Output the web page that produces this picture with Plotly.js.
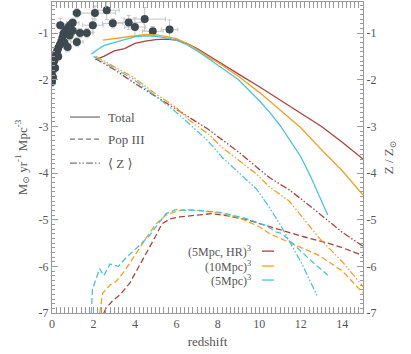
<!DOCTYPE html>
<html>
<head>
<meta charset="utf-8">
<script src="https://cdn.plot.ly/plotly-3.0.1.min.js"></script>
<style>
  body { margin: 0; background: #fff; }
  #plot { width: 411px; height: 354px; }
</style>
</head>
<body>
<div id="plot"></div>
<script>
'use strict'

// colours of the three runs
let colHR = '#a8443f'
let col10 = '#f5a025'
let col5 = '#4cc3d3'

// total SFR (solid)
let totHR_z = [2.1, 2.5, 3.0, 3.5, 4.0, 4.5, 5.0, 5.5, 6.0, 6.5, 7.0, 7.6, 8.0, 9.0, 10, 11, 12, 13, 14, 15]
let totHR_v = [-1.57, -1.5, -1.38, -1.33, -1.22, -1.17, -1.14, -1.13, -1.15, -1.22, -1.33, -1.5, -1.6, -1.88, -2.15, -2.43, -2.72, -3.0, -3.34, -3.7]
let tot10_z = [2.45, 3.0, 3.5, 4.0, 4.5, 5.0, 5.5, 6.0, 6.5, 7.0, 7.6, 8.0, 9.0, 10, 11, 12, 13, 14, 15]
let tot10_v = [-1.15, -1.12, -1.08, -1.05, -1.03, -1.04, -1.07, -1.12, -1.22, -1.35, -1.53, -1.63, -1.93, -2.27, -2.64, -3.03, -3.5, -3.95, -4.47]
let tot5_z = [1.9, 2.2, 2.5, 3.0, 3.5, 4.0, 4.5, 5.0, 5.5, 6.0, 6.5, 7.0, 7.6, 8.0, 9.0, 10, 10.5, 11, 11.44, 12, 12.5, 13, 13.3]
let tot5_v = [-1.45, -1.35, -1.27, -1.2, -1.14, -1.08, -1.06, -1.07, -1.1, -1.15, -1.25, -1.38, -1.57, -1.68, -2.0, -2.45, -2.7, -2.98, -3.28, -3.65, -4.1, -4.6, -4.9]

// Pop III SFR (dashed)
let p3HR_z = [2.5, 2.6, 2.9, 3.3, 3.75, 4.2, 4.7, 5.0, 5.3, 5.7, 6.15, 7.0, 7.7, 8.5, 9.4, 10.5, 12.1, 13.3, 14, 15]
let p3HR_v = [-7.0, -6.9, -6.75, -6.6, -6.36, -6.0, -5.62, -5.35, -5.09, -4.98, -4.94, -4.9, -4.87, -4.92, -5.0, -5.15, -5.36, -5.5, -5.6, -5.77]
let p310_z = [2.3, 2.45, 2.8, 3.1, 3.5, 4.0, 4.5, 5.0, 5.5, 6.0, 6.5, 7.0, 8.0, 9.0, 10, 10.5, 11.5, 12.9, 14, 15]
let p310_v = [-7.0, -6.57, -6.4, -6.32, -6.1, -5.75, -5.42, -5.1, -4.9, -4.82, -4.78, -4.8, -4.85, -4.95, -5.15, -5.3, -5.5, -5.77, -6.1, -6.57]
let p35_z = [1.9, 1.95, 2.1, 2.3, 2.5, 2.8, 3.2, 3.6, 4.1, 4.7, 5.1, 5.5, 6.0, 6.5, 7.0, 7.9, 8.5, 9.4, 10.3, 10.8, 11.1, 11.7, 12.5, 13.3]
let p35_v = [-7.0, -6.5, -6.3, -6.05, -6.2, -5.95, -6.0, -5.8, -5.6, -5.34, -5.1, -4.87, -4.78, -4.8, -4.8, -4.83, -4.88, -4.98, -5.12, -5.26, -5.3, -5.55, -5.88, -6.19]

// mean metallicity (dash-dot, right axis)
let zHR_z = [2.1, 3.0, 3.9, 5.0, 6.0, 6.63, 7.5, 8.2, 9.0, 9.86, 10.5, 11.44, 12, 13.2, 14, 15]
let zHR_v = [-1.55, -1.78, -2.05, -2.35, -2.62, -2.81, -3.05, -3.28, -3.55, -3.87, -4.1, -4.36, -4.55, -4.98, -5.27, -5.57]
let z10_z = [2.1, 3.0, 3.9, 5.0, 6.0, 6.63, 7.5, 8.2, 9.0, 9.86, 10.5, 11.44, 12.9, 14, 15]
let z10_v = [-1.5, -1.72, -1.94, -2.3, -2.6, -2.87, -3.15, -3.45, -3.72, -4.02, -4.3, -4.6, -5.4, -5.9, -6.43]
let z5_z = [2.0, 3.0, 3.9, 5.0, 6.0, 6.63, 7.5, 8.2, 9.0, 9.86, 10.5, 11, 11.5, 12, 12.8]
let z5_v = [-1.5, -1.75, -1.98, -2.35, -2.7, -2.95, -3.3, -3.66, -3.98, -4.34, -4.75, -5.1, -5.5, -5.9, -6.64]

// observed SFR density compilation
let obs_z = [0.0, 0.0, 0.02, 0.05, 0.05, 0.1, 0.15, 0.15, 0.2, 0.25, 0.3, 0.3, 0.38, 0.45, 0.5, 0.55, 0.6, 0.62, 0.7, 0.75,
  0.8, 0.85, 0.9, 0.4, 1.0, 1.0, 1.2, 1.2, 1.35, 1.68, 1.97, 2.07, 2.64, 2.93, 3.7, 4.0, 4.47, 4.86, 5.67]
let obs_v = [-2.05, -1.9, -1.78, -1.68, -1.95, -1.6, -1.52, -1.75, -1.45, -1.38, -1.32, -1.5, -1.25, -1.18, -1.1, -1.02, -1.2, -0.97, -0.92, -1.3,
  -0.87, -1.05, -0.82, -0.83, -0.78, -0.95, -0.57, -1.19, -1.0, -1.0, -0.83, -0.57, -0.51, -0.79, -0.77, -0.87, -0.7, -0.96, -0.92]
let obs_zerr = [0.05, 0.03, 0.05, 0.05, 0.05, 0.1, 0.1, 0.1, 0.1, 0.1, 0.1, 0.1, 0.1, 0.1, 0.1, 0.15, 0.1, 0.1, 0.15, 0.2,
  0.2, 0.15, 0.2, 0.2, 0.3, 0.2, 0.2, 0.3, 0.3, 0.3, 0.5, 1.0, 0.6, 0.5, 0.7, 0.5, 1.0, 0.5, 0.4]
let obs_verr = [0.1, 0.12, 0.1, 0.1, 0.1, 0.08, 0.1, 0.1, 0.1, 0.12, 0.1, 0.1, 0.1, 0.12, 0.1, 0.1, 0.1, 0.1, 0.12, 0.1,
  0.1, 0.1, 0.1, 0.15, 0.1, 0.1, 0.1, 0.1, 0.1, 0.1, 0.15, 0.15, 0.2, 0.1, 0.15, 0.2, 0.25, 0.1, 0.2]

let yTicks = [-7, -6, -5, -4, -3, -2, -1]
let yTickText = ['-7', '-6', '-5', '-4', '-3', '-2', '-1']
let xTicks = [0, 2, 4, 6, 8, 10, 12, 14]

let dashZ = '7px,2px,1.5px,2px,1.5px,2px'
let dashP3 = '6px,3px'

function line(x, y, color, dash, yaxis) {
  return {
    x: x, y: y, type: 'scatter', mode: 'lines', yaxis: yaxis || 'y',
    line: {color: color, width: 1.3, dash: dash || 'solid'},
    hoverinfo: 'skip'
  }
}

let traces = [
  {
    x: obs_z, y: obs_v, type: 'scatter', mode: 'markers',
    marker: {color: '#3e494e', size: 8},
    error_x: {type: 'data', array: obs_zerr, color: '#c2c6c6', thickness: 1, width: 2},
    error_y: {type: 'data', array: obs_verr, color: '#c2c6c6', thickness: 1, width: 2},
    hoverinfo: 'skip'
  },
  line(p3HR_z, p3HR_v, colHR, dashP3),
  line(p310_z, p310_v, col10, dashP3),
  line(p35_z, p35_v, col5, dashP3),
  line(zHR_z, zHR_v, colHR, dashZ, 'y2'),
  line(z10_z, z10_v, col10, dashZ, 'y2'),
  line(z5_z, z5_v, col5, dashZ, 'y2'),
  line(totHR_z, totHR_v, colHR),
  line(tot10_z, tot10_v, col10),
  line(tot5_z, tot5_v, col5)
]

let axisFont = {family: 'Liberation Serif, DejaVu Serif, serif', size: 12, color: '#555'}

let layout = {
  width: 411, height: 354,
  margin: {l: 52, r: 48, t: 2, b: 41},
  paper_bgcolor: '#fff', plot_bgcolor: '#fff',
  showlegend: false,
  font: axisFont,
  xaxis: {
    range: [0, 15], tickvals: xTicks, ticks: 'inside', ticklen: 6, tickcolor: '#999',
    showline: true, linecolor: '#999', linewidth: 1, mirror: 'allticks',
    showgrid: false, zeroline: false, tickfont: axisFont,
    minor: {dtick: 0.2, ticks: 'inside', ticklen: 3, tickcolor: '#999'},
    title: {text: 'redshift', font: {family: axisFont.family, size: 13, color: '#555'}, standoff: 6}
  },
  yaxis: {
    range: [-7, -0.333], tickvals: yTicks, ticktext: yTickText, ticks: 'inside', ticklen: 6, tickcolor: '#999',
    showline: true, linecolor: '#999', linewidth: 1, mirror: true,
    showgrid: false, zeroline: false, tickfont: axisFont,
    minor: {dtick: 0.1, ticks: 'inside', ticklen: 3, tickcolor: '#999'},
    title: {text: 'M<sub>⊙</sub> yr<sup>-1</sup> Mpc<sup>-3</sup>', font: {family: axisFont.family, size: 13, color: '#555'}, standoff: 8}
  },
  yaxis2: {
    overlaying: 'y', side: 'right', matches: 'y',
    range: [-7, -0.333], tickvals: yTicks, ticktext: yTickText, ticks: 'inside', ticklen: 6, tickcolor: '#999',
    showline: true, linecolor: '#999', linewidth: 1,
    showgrid: false, zeroline: false, tickfont: axisFont,
    minor: {dtick: 0.1, ticks: 'inside', ticklen: 3, tickcolor: '#999'},
    title: {text: 'Z / Z<sub>⊙</sub>', font: {family: axisFont.family, size: 13, color: '#555'}, standoff: 8}
  },
  shapes: [],
  annotations: []
}

// left legend: line styles
let styleNames = ['Total', 'Pop III', '⟨ Z ⟩']
let styleDash = ['solid', '5px,3px', dashZ]
let styleY = [0.63, 0.559, 0.482]
for (let i = 0; i < styleNames.length; i++) {
  layout.shapes.push({type: 'line', xref: 'paper', yref: 'paper', x0: 0.058, x1: 0.154, y0: styleY[i], y1: styleY[i],
    line: {color: '#777', width: 1.3, dash: styleDash[i]}})
  layout.annotations.push({xref: 'paper', yref: 'paper', x: 0.175, y: styleY[i], xanchor: 'left', yanchor: 'middle',
    text: styleNames[i], showarrow: false, font: {family: axisFont.family, size: 13, color: '#555'}})
}

// right legend: runs
let runNames = ['(5Mpc, HR)<sup>3</sup>', '(10Mpc)<sup>3</sup>', '(5Mpc)<sup>3</sup>']
let runCols = [colHR, col10, col5]
let runY = [0.199, 0.151, 0.106]
for (let i = 0; i < runNames.length; i++) {
  layout.shapes.push({type: 'line', xref: 'paper', yref: 'paper', x0: 0.675, x1: 0.714, y0: runY[i], y1: runY[i],
    line: {color: runCols[i], width: 1.3}})
  layout.annotations.push({xref: 'paper', yref: 'paper', x: 0.645, y: runY[i], xanchor: 'right', yanchor: 'middle',
    text: runNames[i], showarrow: false, font: {family: axisFont.family, size: 12, color: '#555'}})
}

Plotly.newPlot('plot', traces, layout, {staticPlot: true})
</script>
</body>
</html>
